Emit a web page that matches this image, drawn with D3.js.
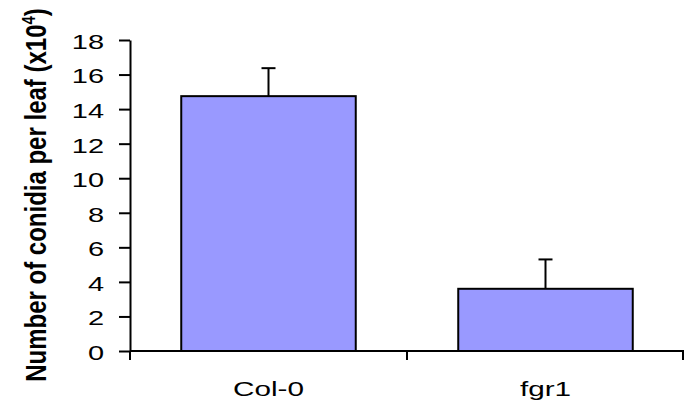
<!DOCTYPE html>
<html>
<head>
<meta charset="utf-8">
<script src="https://cdn.jsdelivr.net/npm/d3@7"></script>
<style>
  body { margin: 0; background: #fff; }
  svg { display: block; font-family: "Liberation Sans", Arial, sans-serif; }
</style>
</head>
<body>
<svg width="685" height="403"></svg>
<script>
// chart data
const categories = ["Col-0", "fgr1"];
const means = [14.75, 3.6];
const errors = [1.62, 1.7];
const yTicks = [0, 2, 4, 6, 8, 10, 12, 14, 16, 18];

const svg = d3.select("svg");
const margin = { left: 130, right: 1, top: 40, bottom: 52 };
const width = 685, height = 403;
// the original picture is stretched sideways, so text is widened too
const stretch = 1.45;

// scales
const x = d3.scaleBand()
  .domain(categories)
  .range([margin.left, width - margin.right])
  .paddingInner(0.37)
  .paddingOuter(0.185);

const y = d3.scaleLinear()
  .domain([0, 18])
  .range([height - margin.bottom, margin.top]);

// bars
svg.append("g")
  .selectAll("rect")
  .data(categories)
  .join("rect")
  .attr("x", d => x(d))
  .attr("y", (d, i) => y(means[i]))
  .attr("width", x.bandwidth())
  .attr("height", (d, i) => y(0) - y(means[i]))
  .attr("fill", "#9999ff")
  .attr("stroke", "#000")
  .attr("stroke-width", 2);

// error bars (upper only)
const err = svg.append("g").attr("stroke", "#000").attr("stroke-width", 2);
categories.forEach((c, i) => {
  const cx = x(c) + x.bandwidth() / 2;
  err.append("line")
    .attr("x1", cx).attr("x2", cx)
    .attr("y1", y(means[i])).attr("y2", y(means[i] + errors[i]));
  err.append("line")
    .attr("x1", cx - 7).attr("x2", cx + 7)
    .attr("y1", y(means[i] + errors[i])).attr("y2", y(means[i] + errors[i]));
});

// y axis
const yAxis = svg.append("g")
  .attr("transform", `translate(${margin.left},0)`)
  .call(d3.axisLeft(y).tickValues(yTicks).tickSize(11).tickPadding(15).tickSizeOuter(0));
yAxis.select(".domain").attr("stroke-width", 2);
yAxis.selectAll(".tick line").attr("stroke-width", 2);
yAxis.selectAll("text")
  .attr("font-size", 20)
  .attr("fill", "#000")
  .attr("font-family", "'Liberation Sans', Arial, sans-serif")
  .attr("x", -26 / stretch)
  .attr("dy", "0.42em")
  .attr("transform", `scale(${stretch},1)`);

// x axis with boundary ticks between categories
const xAxisG = svg.append("g").attr("transform", `translate(0,${y(0)})`);
xAxisG.append("line")
  .attr("x1", margin.left).attr("x2", width - margin.right)
  .attr("stroke", "#000").attr("stroke-width", 2);
const bounds = [margin.left, margin.left + (width - margin.right - margin.left) / 2, width - margin.right - 1];
xAxisG.selectAll(".bt")
  .data(bounds)
  .join("line")
  .attr("x1", d => d).attr("x2", d => d)
  .attr("y1", 0).attr("y2", 9)
  .attr("stroke", "#000").attr("stroke-width", 2);
xAxisG.selectAll(".lbl")
  .data(categories)
  .join("text")
  .attr("transform", d => `translate(${x(d) + x.bandwidth() / 2},45) scale(${stretch},1)`)
  .attr("text-anchor", "middle")
  .attr("font-size", 20.5)
  .text(d => d);

// y axis title
const title = svg.append("text")
  .attr("transform", "translate(46,195) scale(1.2,1) rotate(-90)")
  .attr("text-anchor", "middle")
  .attr("font-size", 24)
  .attr("font-weight", "bold");
title.append("tspan").text("Number of conidia per leaf (x10");
title.append("tspan").attr("font-size", 15).attr("dy", -9).text("4");
title.append("tspan").attr("dy", 9).text(")");
</script>
</body>
</html>
